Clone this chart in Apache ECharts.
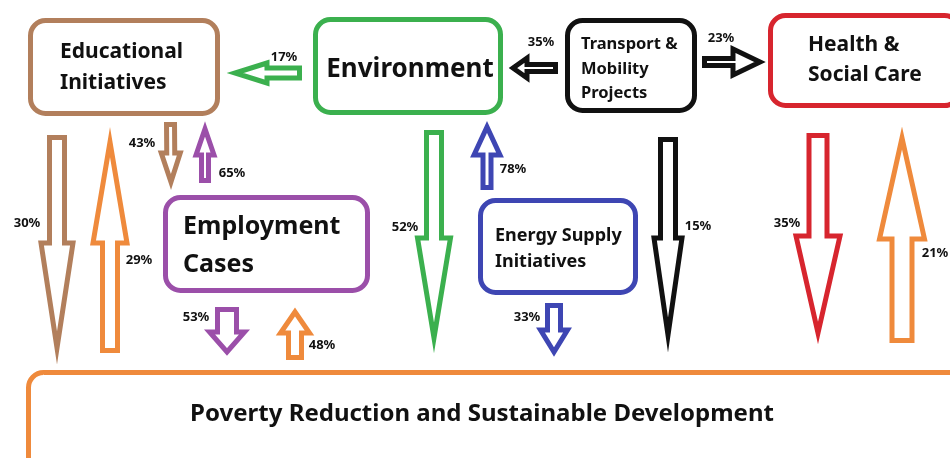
<!DOCTYPE html>
<html>
<head>
<meta charset="utf-8">
<script src="https://cdn.jsdelivr.net/npm/echarts@6/dist/echarts.min.js"></script>
<style>
  html, body { margin: 0; padding: 0; background: #fff; }
  #main { width: 950px; height: 458px; }
</style>
</head>
<body>
<div id="main"></div>
<script>
// ---- data ----
var nodeNames = [
  'Educational\nInitiatives',
  'Environment',
  'Transport &\nMobility\nProjects',
  'Health &\nSocial Care',
  'Employment\nCases',
  'Energy Supply\nInitiatives',
  'Poverty Reduction and Sustainable Development'
];
// flows: source node -> target node, share in %
var flowFrom = [1, 0, 4, 0, 6, 2, 5, 1, 4, 6, 5, 2, 2, 3, 6];
var flowTo   = [0, 4, 0, 6, 0, 1, 1, 6, 6, 4, 6, 3, 6, 6, 3];
var flowPct  = [17, 43, 65, 30, 29, 35, 78, 52, 53, 48, 33, 23, 15, 35, 21];

// ---- styles / layout ----
var nodeColors = ['#b27f5c', '#3bb04e', '#111111', '#d7252e', '#9b4fa9', '#3e46b3', '#ef8a3c'];
// box outer edges: x0, y0, x1, y1
var boxLayout = [
  [28, 18, 220, 116],
  [313, 17, 503, 115],
  [565, 18, 697, 113],
  [768, 13, 962, 108],
  [163, 195, 370, 293],
  [478, 198, 638, 295],
  [26, 370, 970, 475]
];
// text: x, y (middle), align, fontSize, lineHeight
var textLayout = [
  [60, 68, 'left', 21, 31],
  [410, 70, 'center', 26, 30],
  [581, 69, 'left', 16.5, 24.5],
  [808, 60, 'left', 21, 30],
  [183, 246, 'left', 25, 38],
  [495, 249, 'left', 18, 26],
  [482, 414, 'center', 24, 28]
];
// arrows: tailX, tailY, tipX, tipY, shaftW, headW, headLen, labelX, labelY
var arrowLayout = [
  [302, 73, 230, 73, 15, 25, 37, 284, 57],
  [170.5, 122, 171, 187, 13, 24, 34, 142, 143],
  [205, 183, 205, 124, 12, 23, 31, 232, 173],
  [57, 135, 57, 353, 20, 37, 110, 27, 223],
  [110, 353, 110, 137, 20, 39, 106, 139, 260],
  [558, 68, 508, 68, 12, 25, 19, 541, 42],
  [487, 190, 487, 122, 13, 31, 33, 513, 169],
  [434, 130, 434, 343, 20, 38, 105, 405, 227],
  [227, 307, 227, 357, 24, 40, 25, 196, 317],
  [295, 360, 295, 307, 18, 34, 26, 322, 345],
  [554, 303, 554, 357, 18, 32, 27, 527, 317],
  [702, 62, 765, 62, 12, 31, 32, 721, 38],
  [668, 137, 668, 340, 20, 33, 102, 698, 226],
  [818, 133, 818, 338, 23, 49, 102, 787, 223],
  [902, 343, 902, 133, 25, 50, 106, 935, 253]
];

var FONT = '"Noto Sans", "DejaVu Sans", sans-serif';
var LW = 4;
var ARROW_LW = 5;

var boxData = nodeNames.map(function (name, i) {
  var b = boxLayout[i];
  return { value: [b[0], b[1], b[2], b[3], i], name: name };
});
var arrowData = flowPct.map(function (p, i) {
  var a = arrowLayout[i];
  return { value: [a[0], a[1], a[2], a[3], i], name: p + '%' };
});

function renderBox(params, api) {
  var i = api.value(4);
  var p0 = api.coord([api.value(0), api.value(1)]);
  var p1 = api.coord([api.value(2), api.value(3)]);
  var t = textLayout[i];
  var tp = api.coord([t[0], t[1]]);
  var h = LW / 2 + 0.5;
  return {
    type: 'group',
    children: [
      {
        type: 'rect',
        shape: { x: p0[0] + h, y: p0[1] + h, width: p1[0] - p0[0] - 2 * h, height: p1[1] - p0[1] - 2 * h, r: 15 },
        style: { fill: '#fff', stroke: nodeColors[i], lineWidth: LW + 1 }
      },
      {
        type: 'text',
        x: tp[0], y: tp[1],
        style: {
          text: nodeNames[i], fill: '#111', align: t[2], verticalAlign: 'middle',
          fontFamily: FONT, fontWeight: 'bold', fontSize: t[3], lineHeight: t[4]
        }
      }
    ]
  };
}

function renderArrow(params, api) {
  var i = api.value(4);
  var a = arrowLayout[i];
  var T = api.coord([api.value(0), api.value(1)]);
  var P = api.coord([api.value(2), api.value(3)]);
  var dx = P[0] - T[0], dy = P[1] - T[1];
  var L = Math.sqrt(dx * dx + dy * dy);
  var ux = dx / L, uy = dy / L;
  var nx = -uy, ny = ux;
  // pull geometry inside the stroke
  var t0 = ARROW_LW / 2, tip = L - ARROW_LW;
  var sw = (a[4] - ARROW_LW) / 2, hw = (a[5] - ARROW_LW) / 2, hb = L - a[6];
  function pt(along, side) {
    return [T[0] + ux * along + nx * side, T[1] + uy * along + ny * side];
  }
  var pts = [pt(t0, sw), pt(hb, sw), pt(hb, hw), pt(tip, 0), pt(hb, -hw), pt(hb, -sw), pt(t0, -sw)];
  var lp = api.coord([a[7], a[8]]);
  return {
    type: 'group',
    children: [
      {
        type: 'polygon',
        shape: { points: pts },
        style: { fill: '#fff', stroke: nodeColors[flowFrom[i]], lineWidth: ARROW_LW, lineJoin: 'miter', miterLimit: 20 }
      },
      {
        type: 'text',
        x: lp[0], y: lp[1],
        style: {
          text: flowPct[i] + '%', fill: '#111', align: 'center', verticalAlign: 'middle',
          fontFamily: FONT, fontWeight: 'bold', fontSize: 13
        }
      }
    ]
  };
}

var myChart = echarts.init(document.getElementById('main'));
var option = {
  animation: false,
  backgroundColor: '#fff',
  grid: { left: 0, right: 0, top: 0, bottom: 0 },
  xAxis: { type: 'value', min: 0, max: 950, show: false },
  yAxis: { type: 'value', min: 0, max: 458, inverse: true, show: false },
  tooltip: { show: false },
  series: [
    { type: 'custom', name: 'nodes', renderItem: renderBox, data: boxData, z: 2 },
    { type: 'custom', name: 'flows', renderItem: renderArrow, data: arrowData, z: 3 }
  ]
};
myChart.setOption(option);
</script>
</body>
</html>
